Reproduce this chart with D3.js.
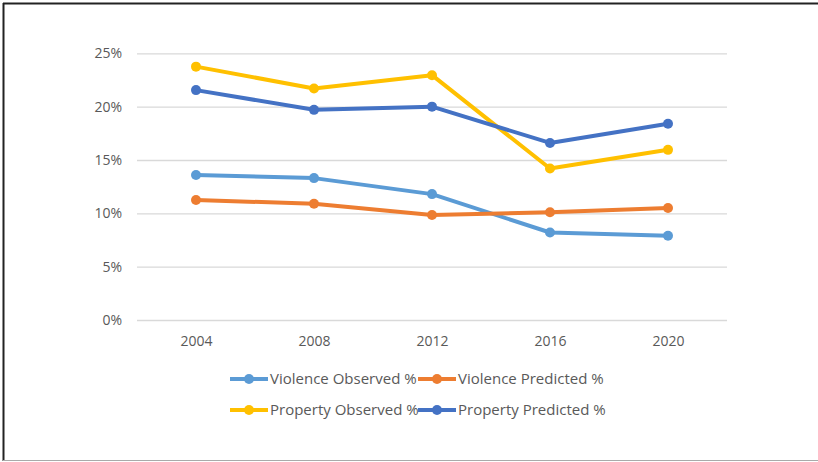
<!DOCTYPE html>
<html>
<head>
<meta charset="utf-8">
<script src="https://cdn.jsdelivr.net/npm/d3@7"></script>
<style>
  body { margin: 0; background: #fff; }
  text { font-family: "Open Sans", "Liberation Sans", sans-serif; fill: #595959; }
</style>
</head>
<body>
<div class="viz"></div>
<script>
const years = ['2004', '2008', '2012', '2016', '2020'];
const violenceObserved = [13.6, 13.3, 11.8, 8.2, 7.9];
const violencePredicted = [11.25, 10.9, 9.85, 10.1, 10.5];
const propertyObserved = [23.75, 21.7, 22.95, 14.2, 15.95];
const propertyPredicted = [21.55, 19.7, 20.0, 16.6, 18.4];
const seriesNames = ['Violence Observed %', 'Violence Predicted %', 'Property Observed %', 'Property Predicted %'];
const yTicks = [0, 5, 10, 15, 20, 25];

const colors = ['#5B9BD5', '#ED7D31', '#FFC000', '#4472C4'];
const series = [violenceObserved, violencePredicted, propertyObserved, propertyPredicted]
    .map((vals, i) => ({ name: seriesNames[i], color: colors[i], values: vals }));

const w = 818;
const h = 462;
const svg = d3.select('.viz').append('svg')
    .attr('width', w)
    .attr('height', h);

// outer frame (top/left dark, bottom light)
svg.append('line').attr('x1', 3).attr('x2', w).attr('y1', 3.5).attr('y2', 3.5)
    .attr('stroke', '#222').attr('stroke-width', 2);
svg.append('line').attr('x1', 3.5).attr('x2', 3.5).attr('y1', 3).attr('y2', 461)
    .attr('stroke', '#222').attr('stroke-width', 2);
svg.append('line').attr('x1', 3).attr('x2', w).attr('y1', 460.5).attr('y2', 460.5)
    .attr('stroke', '#aaa').attr('stroke-width', 1);

const plotLeft = 137, plotRight = 727, plotTop = 53.3, plotBottom = 320;
const x = d3.scalePoint().domain(years).range([plotLeft, plotRight]).padding(0.5);
const y = d3.scaleLinear().domain([0, 25]).range([plotBottom, plotTop]);

// gridlines + y labels
const yAxis = d3.axisLeft(y)
    .tickValues(yTicks)
    .tickSize(-(plotRight - plotLeft))
    .tickPadding(15)
    .tickFormat(d => d + '%');
const gy = svg.append('g').attr('transform', `translate(${plotLeft},0)`).call(yAxis);
gy.select('.domain').remove();
gy.selectAll('.tick line').attr('stroke', '#d9d9d9').attr('stroke-width', 1.3);
gy.selectAll('.tick text').style('font-size', '14px').attr('fill', '#595959');

// x labels
const xAxis = d3.axisBottom(x).tickSize(0).tickPadding(16);
const gx = svg.append('g').attr('transform', `translate(0,${plotBottom})`).call(xAxis);
gx.select('.domain').remove();
gx.selectAll('.tick text').style('font-size', '14px').attr('fill', '#595959');

const line = d3.line()
    .x((d, i) => x(years[i]))
    .y(d => y(d));

const g = svg.append('g');
series.forEach(s => {
    g.append('path')
        .attr('d', line(s.values))
        .attr('fill', 'none')
        .attr('stroke', s.color)
        .attr('stroke-width', 4)
        .attr('stroke-linejoin', 'round');
    g.selectAll(null)
        .data(s.values)
        .enter()
        .append('circle')
        .attr('cx', (d, i) => x(years[i]))
        .attr('cy', d => y(d))
        .attr('r', 5)
        .attr('fill', s.color);
});

// legend, 2 x 2
const legX = [230, 418];
const legY = [379, 410];
const leg = svg.append('g')
    .selectAll('g')
    .data(series)
    .enter()
    .append('g')
    .attr('transform', (d, i) => `translate(${legX[i % 2]},${legY[Math.floor(i / 2)]})`);
leg.append('line')
    .attr('x1', 0).attr('x2', 38)
    .attr('stroke', d => d.color)
    .attr('stroke-width', 4);
leg.append('circle')
    .attr('cx', 19).attr('r', 5)
    .attr('fill', d => d.color);
leg.append('text')
    .attr('x', 40)
    .attr('dy', '0.35em')
    .style('font-size', '15px')
    .text(d => d.name);
</script>
</body>
</html>
